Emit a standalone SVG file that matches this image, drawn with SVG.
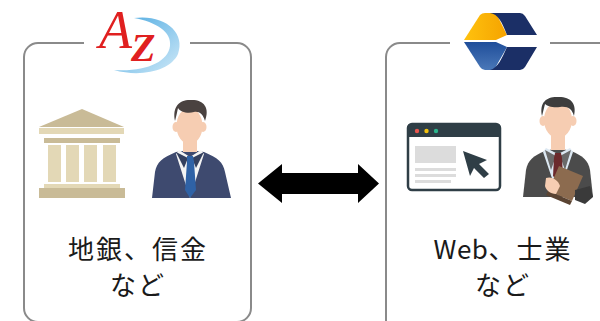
<svg xmlns="http://www.w3.org/2000/svg" width="600" height="321" viewBox="0 0 600 321">
  <defs>
    <style>
      .frame { fill: none; stroke: #8a8a8a; stroke-width: 2; }
      .label { font-family: "Noto Sans CJK JP", "Noto Sans", sans-serif; font-size: 26px; fill: #1a1a1a; text-anchor: middle; letter-spacing: 2px; }
      .tanDark { fill: #c9bb97; }
      .tanLight { fill: #e3d8b6; }
      .skin { fill: #f6cdb2; }
    </style>
    <linearGradient id="swoosh" x1="0" y1="0" x2="1" y2="1">
      <stop offset="0" stop-color="#4aa8e0"/>
      <stop offset="1" stop-color="#cfe9f8"/>
    </linearGradient>
    <linearGradient id="gold" x1="0" y1="0" x2="1" y2="0">
      <stop offset="0" stop-color="#ffc20e"/>
      <stop offset="1" stop-color="#f5a300"/>
    </linearGradient>
    <linearGradient id="blueLow" x1="0" y1="0" x2="0" y2="1">
      <stop offset="0" stop-color="#1f4e9a"/>
      <stop offset="1" stop-color="#4a78b8"/>
    </linearGradient>
  </defs>

  <!-- left panel -->
  <g id="panel-banks">
    <path class="frame" d="M84 43 H38 A14 14 0 0 0 24 57 V308 A14 14 0 0 0 38 322 H237 A14 14 0 0 0 251 308 V57 A14 14 0 0 0 237 43 H190"/>
    <!-- AZ logo -->
    <g id="logo-az">
      <path d="M134 18 C164 14 186 32 178 54 C171 70 142 78 114 70 C146 72 168 62 170 46 C172 32 156 22 134 18 Z" fill="url(#swoosh)"/>
      <text x="99" y="48" font-family="Liberation Serif, serif" font-size="54" font-style="italic" fill="#e02020">A<tspan dx="-1" dy="13" font-size="40" font-weight="bold">Z</tspan></text>
    </g>
    <!-- bank building -->
    <g id="bank">
      <polygon class="tanDark" points="82,109 124,127 39,127"/>
      <rect class="tanLight" x="39" y="128" width="85" height="6"/>
      <rect class="tanDark" x="44" y="138" width="76" height="5"/>
      <rect class="tanLight" x="48" y="145" width="13" height="37"/>
      <rect class="tanLight" x="66" y="145" width="13" height="37"/>
      <rect class="tanLight" x="84" y="145" width="13" height="37"/>
      <rect class="tanLight" x="103" y="145" width="13" height="37"/>
      <rect class="tanLight" x="44" y="184" width="76" height="4"/>
      <rect class="tanDark" x="39" y="188" width="86" height="10"/>
    </g>
    <!-- banker -->
    <g id="banker">
      <path d="M152 198 L155 172 C157 162 162 158 176 152 L190 150 L204 152 C218 158 223 162 225 172 L231 198 Z" fill="#3e4a6f"/>
      <rect class="skin" x="183" y="136" width="14" height="16"/>
      <path d="M179 150 L190 157 L201 150 L204 154 L190 198 L176 154 Z" fill="#f4f4f4"/>
      <path d="M176 152 L184 168 L188 158 Z M204 152 L196 168 L192 158 Z" fill="#34405f"/>
      <path d="M187 156 L193 156 L194 162 L196 190 L190 198 L185 190 L187 162 Z" fill="#2f62a6"/>
      <ellipse class="skin" cx="176" cy="127" rx="3.5" ry="5"/>
      <ellipse class="skin" cx="203" cy="127" rx="3.5" ry="5"/>
      <ellipse class="skin" cx="189.5" cy="126" rx="13" ry="18"/>
      <path d="M175 121 C172 106 180 99 192 100 C204 100 210 108 205 121 C203 114 199 111 194 112 C188 114 180 112 178 108 C177 113 176 117 175 121 Z" fill="#4a4240"/>
    </g>
  </g>

  <!-- right panel -->
  <g id="panel-web">
    <path class="frame" d="M450 43 H400 A14 14 0 0 0 386 57 V322"/>
    <path class="frame" d="M550 43 H601"/>
    <!-- chevron logo -->
    <g id="logo-c">
      <path d="M464 40 L480 15 Q482 13 485 13 L496 13 L507 35 L496 40 Z" fill="url(#gold)"/>
      <path d="M490 13 L520 13 Q523 13 525 16 L537 35 L507 35 C502 22 498 14 490 13 Z" fill="#1b2f66"/>
      <path d="M464 42 L496 42 L507 47 L494 70 L485 70 Q482 70 480 67 Z" fill="url(#blueLow)"/>
      <path d="M507 47 L537 47 L525 67 Q523 70 520 70 L490 70 C498 68 502 58 507 47 Z" fill="#1b2f66"/>
    </g>
    <!-- browser window -->
    <g id="browser">
      <rect x="408" y="124" width="92" height="66" rx="4" fill="#ffffff" stroke="#2f3e46" stroke-width="2.5"/>
      <path d="M408 137 V128 A4 4 0 0 1 412 124 H496 A4 4 0 0 1 500 128 V137 Z" fill="#2f3e46"/>
      <circle cx="417" cy="131" r="2.2" fill="#e8574e"/>
      <circle cx="426.5" cy="131" r="2.2" fill="#f4c20d"/>
      <circle cx="436" cy="131" r="2.2" fill="#2bb58c"/>
      <rect x="415" y="146" width="41" height="17" fill="#dcdcdc"/>
      <rect x="415" y="168" width="41" height="3" fill="#dcdcdc"/>
      <rect x="415" y="174" width="41" height="3" fill="#dcdcdc"/>
      <rect x="415" y="180" width="36" height="3" fill="#dcdcdc"/>
      <path d="M463 151 L487 160 L479 164 L489 174 L484 178 L474 168 L470 176 Z" fill="#2f3e46"/>
    </g>
    <!-- lawyer -->
    <g id="lawyer">
      <path d="M523 197 L526 170 C528 160 533 156 545 151 L558 148 L571 151 C583 156 588 160 590 170 L593 197 Z" fill="#4b4b4b"/>
      <rect class="skin" x="551" y="134" width="14" height="16"/>
      <path d="M546 148 L558 154 L570 148 L573 152 L558 196 L543 152 Z" fill="#dce8f2"/>
      <path d="M545 150 L551 170 L556 156 Z M571 150 L565 170 L560 156 Z" fill="#6a6a6a"/>
      <path d="M555 153 L561 153 L562 158 L563 176 L558 181 L553 176 L554 158 Z" fill="#6b2a2c"/>
      <ellipse class="skin" cx="543" cy="121" rx="3.5" ry="5"/>
      <ellipse class="skin" cx="573" cy="121" rx="3.5" ry="5"/>
      <ellipse class="skin" cx="558" cy="120" rx="14" ry="18"/>
      <path d="M542 116 C539 101 548 96 559 97 C571 97 577 104 574 116 C572 109 568 106 560 107 C553 108 547 106 545 104 C544 108 543 112 542 116 Z" fill="#3d3d3d"/>
      <!-- book and hand -->
      <path d="M548 191 L559 166 L583 176 L572 201 Z" fill="#8c6b4f"/>
      <path d="M548 191 L572 201 L570 205 L546 195 Z" fill="#5a4332"/>
      <path d="M546 178 C552 176 558 180 560 186 L556 194 C550 194 546 190 545 186 Z" class="skin"/>
      <path d="M575 190 L590 186 L593 197 L585 204 L575 200 Z" fill="#3a3a3a"/>
    </g>
  </g>

  <!-- connectors -->
  <g id="connectors">
    <polygon points="258,183.5 282,164 282,173 358,173 358,164 379,183.5 358,203 358,194 282,194 282,203" fill="#000000"/>
  </g>

  <!-- labels -->
  <g id="labels">
    <text class="label" x="138" y="259">地銀、信金</text>
    <text class="label" x="138" y="295">など</text>
    <text class="label" x="503" y="259"><tspan letter-spacing="0.5">Web</tspan>、士業</text>
    <text class="label" x="503" y="295">など</text>
  </g>
</svg>
